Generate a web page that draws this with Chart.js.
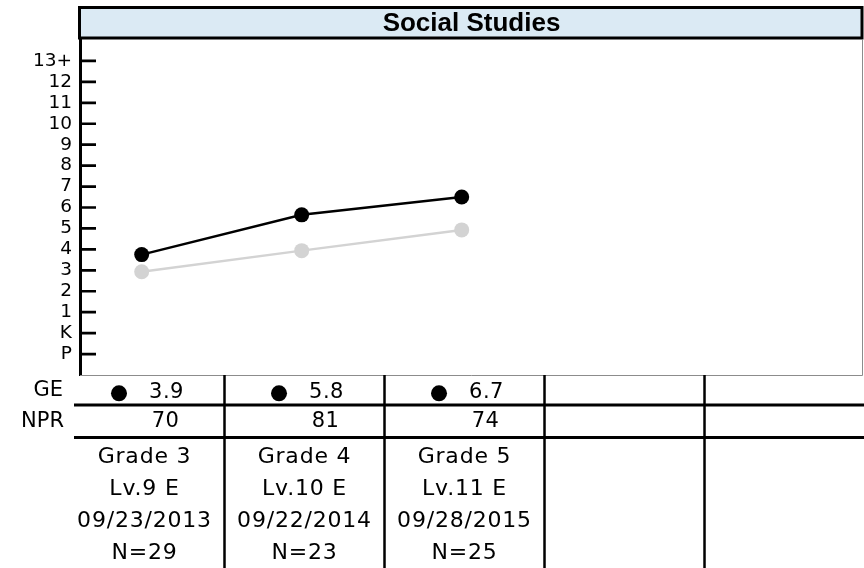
<!DOCTYPE html>
<html><head><meta charset="utf-8">
<script src="https://cdn.jsdelivr.net/npm/chart.js@4.4.1/dist/chart.umd.min.js"></script>
<style>html,body{margin:0;padding:0;background:#fff;}</style>
</head><body>
<canvas id="c" width="864" height="568"></canvas>
<script>
// ---- data ----
const yTickLabels = ['P','K','1','2','3','4','5','6','7','8','9','10','11','12','13+'];
const yTickStart = -1; // value of 'P'
const categories = ['Grade 3','Grade 4','Grade 5'];
const levels = ['Lv.9 E','Lv.10 E','Lv.11 E'];
const testDates = ['09/23/2013','09/22/2014','09/28/2015'];
const nCounts = ['N=29','N=23','N=25'];
const geLabels = ['3.9','5.8','6.7'];
const nprValues = ['70','81','74'];
const studentGE = [3.75, 5.65, 6.5];      // plotted positions (black)
const comparisonGE = [2.93, 3.94, 4.93];  // plotted positions (grey)
const rowLabels = ['GE','NPR'];
const totalColumns = 5;

const FONT = 'DejaVu Sans';

const tablePlugin = {
  id: 'tablePlugin',
  beforeDraw(chart) {
    const ctx = chart.ctx;
    ctx.save();
    ctx.fillStyle = '#fff';
    ctx.fillRect(0, 0, chart.width, chart.height);
    // title box
    ctx.fillStyle = '#dbeaf4';
    ctx.fillRect(80, 8, 782, 30);
    ctx.strokeStyle = '#000';
    ctx.lineWidth = 3;
    ctx.strokeRect(79.5, 7.5, 782.5, 30.5);
    ctx.restore();
  },
  beforeDatasetsDraw(chart) {
    const ctx = chart.ctx, a = chart.chartArea, ys = chart.scales.y;
    ctx.save();
    ctx.strokeStyle = '#8c8c8c';
    ctx.lineWidth = 1;
    ctx.beginPath();
    ctx.moveTo(a.left, a.bottom + 0.5);
    ctx.lineTo(a.right - 0.5, a.bottom + 0.5);
    ctx.lineTo(a.right - 0.5, a.top);
    ctx.stroke();
    // tick marks drawn inward
    ctx.strokeStyle = '#000';
    ctx.lineWidth = 2.7;
    ctx.beginPath();
    yTickLabels.forEach((t, i) => {
      const py = ys.getPixelForValue(yTickStart + i);
      ctx.moveTo(a.left, py);
      ctx.lineTo(a.left + 16, py);
    });
    ctx.stroke();
    ctx.restore();
  },
  afterDraw(chart) {
    const ctx = chart.ctx, a = chart.chartArea, xs = chart.scales.x;
    const colW = xs.getPixelForValue(1) - xs.getPixelForValue(0);
    const colCenter = i => xs.getPixelForValue(i) + 2.8;
    ctx.save();
    // horizontal rules
    ctx.strokeStyle = '#000';
    ctx.lineWidth = 3;
    ctx.beginPath();
    [405, 437.5].forEach(y => { ctx.moveTo(74, y); ctx.lineTo(chart.width, y); });
    ctx.stroke();
    // vertical rules
    ctx.lineWidth = 2.5;
    ctx.beginPath();
    for (let i = 0; i < totalColumns - 1; i++) {
      const x = colCenter(i) + colW / 2;
      ctx.moveTo(x, a.bottom);
      ctx.lineTo(x, chart.height);
    }
    ctx.stroke();
    // row labels
    ctx.fillStyle = '#000';
    ctx.textBaseline = 'middle';
    ctx.font = '21px "' + FONT + '"';
    ctx.textAlign = 'right';
    ctx.fillText(rowLabels[0], 63, 391);
    ctx.fillText(rowLabels[1], 64, 422);
    // values
    ctx.textAlign = 'center';
    for (let i = 0; i < categories.length; i++) {
      const cx = colCenter(i);
      ctx.beginPath();
      ctx.arc(cx - 25.5, 393.3, 8, 0, Math.PI * 2);
      ctx.fill();
      ctx.letterSpacing = '0.5px';
      ctx.font = '21px "' + FONT + '"';
      ctx.fillText(geLabels[i], cx + 22, 392.5);
      ctx.fillText(nprValues[i], cx + 21, 422);
      ctx.letterSpacing = '0.8px';
      ctx.font = '22px "' + FONT + '"';
      [categories[i], levels[i], testDates[i], nCounts[i]].forEach((t, r) => {
        ctx.fillText(t, cx, 457.5 + 32 * r);
      });
      ctx.letterSpacing = '0px';
    }
    ctx.restore();
  }
};

new Chart(document.getElementById('c'), {
  type: 'line',
  data: {
    datasets: [
      {
        label: 'Student GE',
        data: studentGE.map((v, i) => ({ x: i, y: v })),
        borderColor: '#000',
        backgroundColor: '#000',
        pointBackgroundColor: '#000',
        pointBorderWidth: 0,
        pointRadius: 7.5,
        borderWidth: 2.5,
        order: 0
      },
      {
        label: 'Comparison',
        data: comparisonGE.map((v, i) => ({ x: i, y: v })),
        borderColor: '#d3d3d3',
        backgroundColor: '#d3d3d3',
        pointBackgroundColor: '#d3d3d3',
        pointBorderWidth: 0,
        pointRadius: 7.5,
        borderWidth: 2.5,
        order: 1
      }
    ]
  },
  options: {
    responsive: false,
    animation: false,
    devicePixelRatio: 1,
    layout: { autoPadding: false, padding: { top: 0, right: 1, bottom: 193, left: 0 } },
    plugins: {
      legend: { display: false },
      tooltip: { enabled: false },
      title: {
        display: true,
        text: 'Social Studies',
        fullSize: false,
        color: '#000',
        font: { family: 'Liberation Sans', size: 26, weight: 'bold', lineHeight: 1.2 },
        padding: { top: 8.5, bottom: 0.3 }
      }
    },
    scales: {
      x: {
        type: 'linear',
        display: false,
        min: -0.3856,
        max: 4.508
      },
      y: {
        type: 'linear',
        min: yTickStart - 1,
        max: yTickStart + yTickLabels.length,
        afterFit: s => { s.width = 80; },
        grid: { display: false, drawTicks: false },
        border: { display: true, color: '#000', width: 3 },
        ticks: {
          stepSize: 1,
          autoSkip: false,
          padding: 8,
          color: '#000',
          font: { family: FONT, size: 18.5 },
          callback: v => {
            const idx = v - yTickStart;
            return (Number.isInteger(idx) && idx >= 0 && idx < yTickLabels.length) ? yTickLabels[idx] : null;
          }
        }
      }
    }
  },
  plugins: [tablePlugin]
});
</script>
</body></html>
